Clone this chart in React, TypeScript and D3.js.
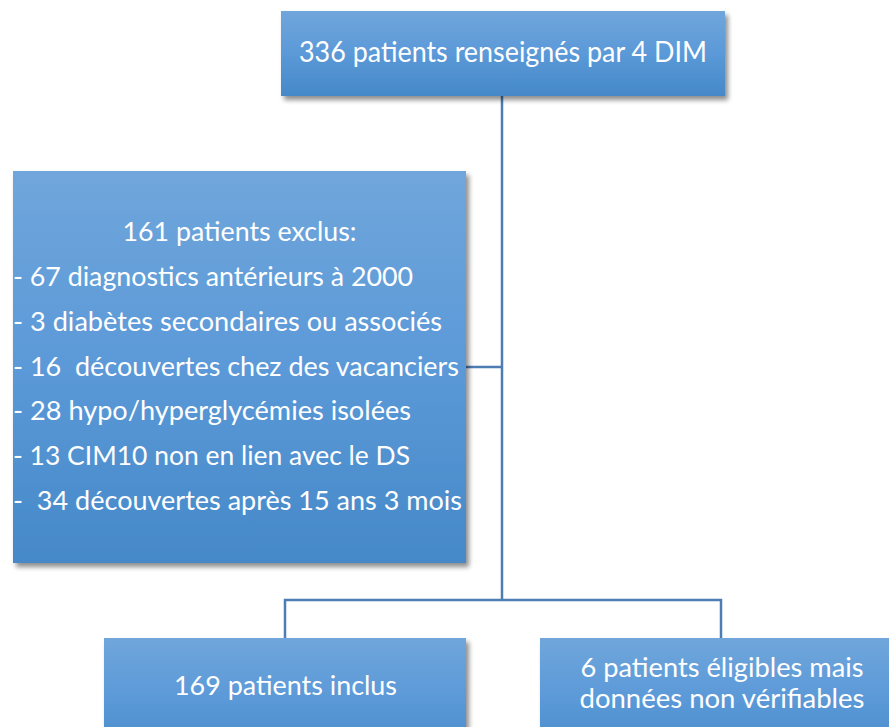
import React from "react";
import * as d3 from "d3";

// ---- content ----
const topLines = ["336 patients renseignés par 4 DIM"];
const exclTitle = ["161 patients exclus:"];
const exclItems = [
  "- 67 diagnostics antérieurs à 2000",
  "- 3 diabètes secondaires ou associés",
  "- 16  découvertes chez des vacanciers",
  "- 28 hypo/hyperglycémies isolées",
  "- 13 CIM10 non en lien avec le DS",
  "-  34 découvertes après 15 ans 3 mois",
];
const inclLines = ["169 patients inclus"];
const unverLines = ["6 patients éligibles mais", "données non vérifiables"];

// measured text widths (px) to mimic Calibri metrics
const topW = [408];
const exclTitleW = [234];
const exclItemsW = [400, 429, 446, 398, 397, 449];
const inclW = [223];
const unverW = [283, 285];

const W = 889;
const H = 727;
const FONT = "Lato, 'Open Sans', sans-serif";
const LINE = "#4d7db2";

type Box = { x0: number; x1: number; y0: number; y1: number };

const x = d3.scaleLinear().domain([0, 1]).range([0, W]);
const y = d3.scaleLinear().domain([0, 1]).range([0, H]);

const topBox: Box = { x0: x(281 / W), x1: x(725 / W), y0: y(11 / H), y1: y(96 / H) };
const exclBox: Box = { x0: x(13 / W), x1: x(466 / W), y0: y(171 / H), y1: y(563 / H) };
const inclBox: Box = { x0: x(104 / W), x1: x(466 / W), y0: y(638 / H), y1: y(760 / H) };
const unverBox: Box = { x0: x(540 / W), x1: x(920 / W), y0: y(638 / H), y1: y(760 / H) };

const trunkX = x(502 / W);
const branchY = y(600 / H);
const exclY = y(367 / H);
const leftDropX = x(285 / W);
const rightDropX = x(721 / W);

function BoxRect({ b }: { b: Box }) {
  return (
    <rect
      x={b.x0}
      y={b.y0}
      width={b.x1 - b.x0}
      height={b.y1 - b.y0}
      fill="url(#boxGrad)"
      filter="url(#shadow)"
    />
  );
}

export default function App() {
  const conn = d3.path();
  conn.moveTo(trunkX, topBox.y1);
  conn.lineTo(trunkX, branchY);
  conn.moveTo(exclBox.x1, exclY);
  conn.lineTo(trunkX, exclY);
  conn.moveTo(leftDropX, inclBox.y0);
  conn.lineTo(leftDropX, branchY);
  conn.lineTo(rightDropX, branchY);
  conn.lineTo(rightDropX, unverBox.y0);

  const exclLineY = d3.range(exclItems.length).map((i) => 286 + i * 44.8);
  const textStyle = { fontFamily: FONT, fill: "#ffffff" } as const;

  return (
    <svg
      width={W}
      height={H}
      style={{ position: "absolute", left: 0, top: 0, background: "#fff" }}
    >
      <defs>
        <linearGradient id="boxGrad" x1="0" y1="0" x2="0" y2="1">
          <stop offset="0%" stopColor="#70a6db" />
          <stop offset="50%" stopColor="#5b99d8" />
          <stop offset="100%" stopColor="#4689c8" />
        </linearGradient>
        <filter id="shadow" x="-10%" y="-10%" width="130%" height="130%">
          <feGaussianBlur in="SourceAlpha" stdDeviation="2.5" />
          <feOffset dx="3" dy="4" result="off" />
          <feComponentTransfer>
            <feFuncA type="linear" slope="0.45" />
          </feComponentTransfer>
          <feMerge>
            <feMergeNode />
            <feMergeNode in="SourceGraphic" />
          </feMerge>
        </filter>
      </defs>

      <path d={conn.toString()} fill="none" stroke={LINE} strokeWidth={2.5} />

      <BoxRect b={topBox} />
      <BoxRect b={exclBox} />
      <BoxRect b={inclBox} />
      <BoxRect b={unverBox} />

      {topLines.map((t, i) => (
        <text
          key={t}
          x={(topBox.x0 + topBox.x1) / 2}
          y={62}
          textAnchor="middle"
          fontSize={29.5}
          textLength={topW[i]}
          lengthAdjust="spacingAndGlyphs"
          style={textStyle}
        >
          {t}
        </text>
      ))}

      {exclTitle.map((t, i) => (
        <text
          key={t}
          x={(exclBox.x0 + exclBox.x1) / 2}
          y={241}
          textAnchor="middle"
          fontSize={26.5}
          textLength={exclTitleW[i]}
          lengthAdjust="spacingAndGlyphs"
          style={textStyle}
        >
          {t}
        </text>
      ))}

      {exclItems.map((t, i) => (
        <text
          key={t}
          x={exclBox.x0}
          y={exclLineY[i]}
          fontSize={26.5}
          textLength={exclItemsW[i]}
          lengthAdjust="spacingAndGlyphs"
          style={{ ...textStyle, whiteSpace: "pre" }}
        >
          {t}
        </text>
      ))}

      {inclLines.map((t, i) => (
        <text
          key={t}
          x={(inclBox.x0 + inclBox.x1) / 2 + 0.5}
          y={695}
          textAnchor="middle"
          fontSize={26.5}
          textLength={inclW[i]}
          lengthAdjust="spacingAndGlyphs"
          style={textStyle}
        >
          {t}
        </text>
      ))}

      {unverLines.map((t, i) => (
        <text
          key={t}
          x={722}
          y={677 + i * 31}
          textAnchor="middle"
          fontSize={26.5}
          textLength={unverW[i]}
          lengthAdjust="spacingAndGlyphs"
          style={textStyle}
        >
          {t}
        </text>
      ))}
    </svg>
  );
}
